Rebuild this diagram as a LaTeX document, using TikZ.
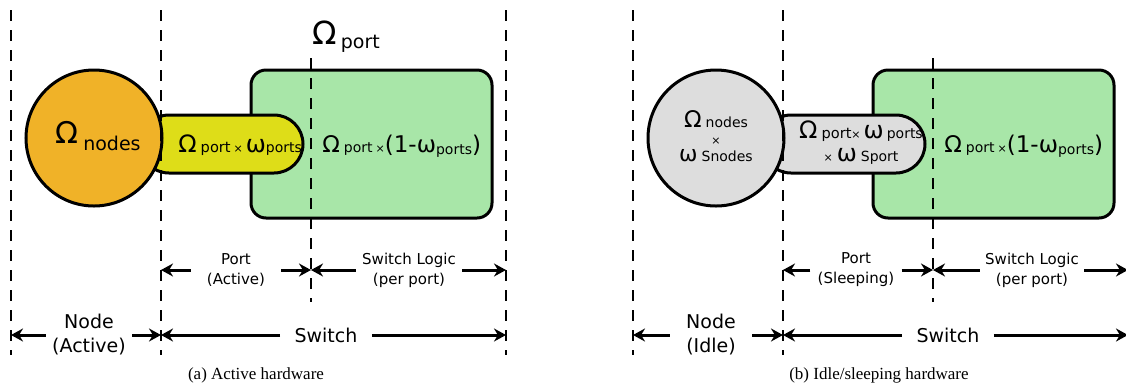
\documentclass[tikz,border=0pt]{standalone}
\usepackage{fontspec}
\setmainfont{DejaVu Sans}
\newfontfamily\capfont{Liberation Serif}
\usetikzlibrary{arrows.meta}

\definecolor{nodeorange}{RGB}{240,178,40}
\definecolor{portyellow}{RGB}{222,221,24}
\definecolor{logicgreen}{RGB}{168,230,168}
\definecolor{idlegrey}{RGB}{221,221,221}

\newcommand{\bigsym}[2][12]{{\fontsize{#1}{#1}\selectfont #2}}
\newcommand{\subtxt}[2][7]{{\fontsize{#1}{#1}\selectfont #2}}
\newcommand{\timesx}{{\fontsize{5.5}{5.5}\selectfont ×}}

\tikzset{
  boundary/.style={dash pattern=on 5.5pt off 4.5pt, line width=0.7pt},
  shapeline/.style={draw=black, line width=1.5pt},
  dimarrow/.style={line width=1.5pt, ->},
  smalllbl/.style={font=\fontsize{7.5}{10}\selectfont, align=center, inner ysep=0pt},
  biglbl/.style={font=\fontsize{9.5}{12}\selectfont, align=center, inner ysep=0pt},
  caption/.style={font=\capfont\fontsize{8.5}{10}\selectfont},
}

\begin{document}
\begin{tikzpicture}[x=0.5pt,y=-0.5pt,>={Stealth[length=6pt,width=6.5pt]}]
\useasboundingbox (0,0) rectangle (1126,387);

% (a) active hardware
\coordinate (a1) at (11,10);
\coordinate (a2) at (161,10);
\coordinate (a3) at (311,58);
\coordinate (a4) at (506,10);
\filldraw[fill=logicgreen, shapeline, rounded corners=7.5pt] (251,70) rectangle (492,218);
\filldraw[fill=portyellow, shapeline, rounded corners=14.5pt] (140,115) rectangle (303,173);
\filldraw[fill=nodeorange, shapeline] (94,138) circle[radius=34pt];
\node[anchor=base west, inner sep=0pt] (omporta) at (312,44)
  {\bigsym[16]{Ω}\hspace{2pt}\raisebox{-2pt}{\subtxt[9.5]{port}}};
\node[anchor=base west, inner sep=0pt] (nodetxta) at (55,143)
  {\bigsym[15]{Ω}\hspace{2.5pt}\raisebox{-3.5pt}{\subtxt[9.5]{nodes}}};
\node[anchor=base west, inner sep=0pt] (porttxta) at (178,152)
  {\bigsym{Ω}\hspace{2pt}\subtxt[7.3]{port}\hspace{1.5pt}\timesx\hspace{1.5pt}\bigsym{ω}\subtxt{ports}};
\node[anchor=base west, inner sep=0pt] (logictxta) at (322,152)
  {\bigsym[11.5]{Ω}\hspace{2pt}\subtxt{port}\hspace{1.5pt}\timesx\bigsym[11.5]{(1-ω}\raisebox{-1pt}{\subtxt{ports}}\bigsym[11.5]{)}};
\foreach \c in {a1,a2,a4}
  \draw[boundary] (\c) -- ++(0,345);
\draw[boundary] (a3) -- ++(0,244);
\node[smalllbl, inner xsep=8pt] (porta) at (236,270) {Port\\(Active)};
\draw[dimarrow] (porta.west) -- (porta.west -| a2);
\draw[dimarrow] (porta.east) -- (porta.east -| a3);
\node[smalllbl, inner xsep=3pt] (logica) at (409,270) {Switch Logic\\(per port)};
\draw[dimarrow] (logica.west) -- (logica.west -| a3);
\draw[dimarrow] (logica.east) -- (logica.east -| a4);
\node[biglbl, inner xsep=3pt] (nodelbla) at (89,335) {Node\\(Active)};
\draw[dimarrow] (nodelbla.west) -- (nodelbla.west -| a1);
\draw[dimarrow] (nodelbla.east) -- (nodelbla.east -| a2);
\node[biglbl, inner xsep=7pt] (switcha) at (326,335) {Switch};
\draw[dimarrow] (switcha.west) -- (switcha.west -| a2);
\draw[dimarrow] (switcha.east) -- (switcha.east -| a4);
\node[caption] (capa) at (256,375) {(a) Active hardware};

% (b) idle/sleeping hardware
\begin{scope}[xshift=311pt]
\coordinate (b1) at (11,10);
\coordinate (b2) at (161,10);
\coordinate (b3) at (311,58);
\coordinate (b4) at (506,10);
\filldraw[fill=logicgreen, shapeline, rounded corners=7.5pt] (251,70) rectangle (492,218);
\filldraw[fill=idlegrey, shapeline, rounded corners=14.5pt] (140,115) rectangle (303,173);
\filldraw[fill=idlegrey, shapeline] (94,138) circle[radius=34pt];
\node[align=center, font=\fontsize{7}{8.5}\selectfont, inner sep=0pt] (nodetxtb) at (94,136)
  {\bigsym[11.5]{Ω}\hspace{2pt}\subtxt{nodes}\\ \timesx\\ \bigsym[11]{ω}\hspace{2pt}\subtxt{Snodes}};
\node[align=center, font=\fontsize{7}{11.5}\selectfont, inner sep=0pt] (porttxtb) at (239,143)
  {\bigsym{Ω}\hspace{2pt}\subtxt[7.3]{port}\timesx\hspace{1.5pt}\bigsym{ω}\hspace{1.5pt}\subtxt{ports}\\
   \timesx\hspace{2pt}\bigsym{ω}\hspace{2pt}\subtxt{Sport}};
\node[anchor=base west, inner sep=0pt] (logictxtb) at (322,152)
  {\bigsym[11.5]{Ω}\hspace{2pt}\subtxt{port}\hspace{1.5pt}\timesx\bigsym[11.5]{(1-ω}\raisebox{-1pt}{\subtxt{ports}}\bigsym[11.5]{)}};
\foreach \c in {b1,b2,b4}
  \draw[boundary] (\c) -- ++(0,345);
\draw[boundary] (b3) -- ++(0,244);
\node[smalllbl, inner xsep=3.5pt] (portb) at (234,270) {Port\\(Sleeping)};
\draw[dimarrow] (portb.west) -- (portb.west -| b2);
\draw[dimarrow] (portb.east) -- (portb.east -| b3);
\node[smalllbl, inner xsep=2.5pt] (logicb) at (410,270) {Switch Logic\\(per port)};
\draw[dimarrow] (logicb.west) -- (logicb.west -| b3);
\draw[dimarrow] (logicb.east) -- (logicb.east -| b4);
\node[biglbl, inner xsep=8pt] (nodelblb) at (89,335) {Node\\(Idle)};
\draw[dimarrow] (nodelblb.west) -- (nodelblb.west -| b1);
\draw[dimarrow] (nodelblb.east) -- (nodelblb.east -| b2);
\node[biglbl, inner xsep=7pt] (switchb) at (326,335) {Switch};
\draw[dimarrow] (switchb.west) -- (switchb.west -| b2);
\draw[dimarrow] (switchb.east) -- (switchb.east -| b4);
\node[caption] (capb) at (257,375) {(b) Idle/sleeping hardware};
\end{scope}
\end{tikzpicture}
\end{document}
